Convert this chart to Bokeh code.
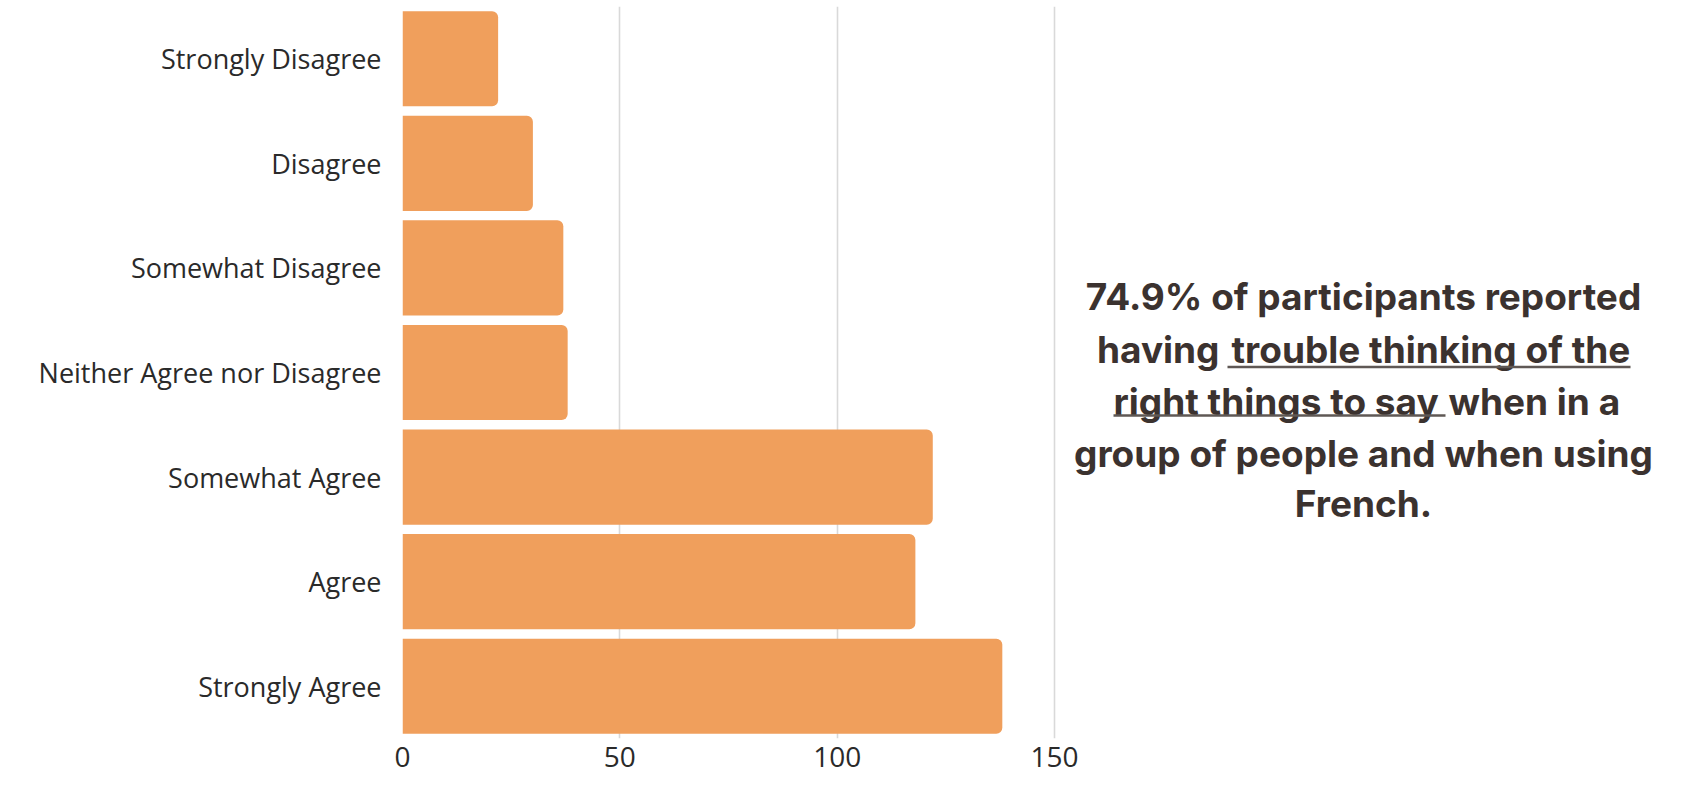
from bokeh.plotting import figure
from bokeh.models import Range1d, FixedTicker, ColumnDataSource
from bokeh.core.properties import value
from bokeh.embed import file_html
from bokeh.resources import INLINE

# ---- data ----
categories = ["Strongly Disagree", "Disagree", "Somewhat Disagree",
              "Neither Agree nor Disagree", "Somewhat Agree", "Agree", "Strongly Agree"]
counts = [22, 30, 37, 38, 122, 118, 138]
x_ticks = [0, 50, 100, 150]

# annotation text pieces (page pixel positions)
note_text = ["74.9% of participants reported", "having", "trouble thinking of the",
             "right things to say", "when in a", "group of people and when using", "French."]
note_x = [1363, 1219, 1231, 1113, 1448, 1363, 1363]
note_y = [296, 349, 349, 401, 401, 453, 503]
note_align = ["center", "right", "left", "left", "left", "center", "center"]
ul_x0 = [1227, 1113]
ul_x1 = [1630, 1445]
ul_y = [366.5, 415]

BAR = "#F09F5C"
TXT = "#3b322f"

pos = list(range(len(categories)))
n = len(categories)

p = figure(width=1679, height=785,
           y_range=Range1d(n - 0.5, -0.5),
           x_range=Range1d(0, 293.8),
           output_backend="svg", toolbar_location=None,
           min_border_left=402, min_border_right=0, min_border_top=6,
           min_border_bottom=47)
p.outline_line_color = None
p.background_fill_color = "white"
p.border_fill_color = "white"

src = ColumnDataSource(dict(y=pos, val=counts))
p.hbar(y="y", right="val", left=0, height=0.91, source=src,
       fill_color=BAR, line_color=None, border_radius=(0, 6, 6, 0))

p.xaxis.ticker = FixedTicker(ticks=x_ticks)
p.xgrid.ticker = FixedTicker(ticks=x_ticks)
p.xgrid.grid_line_color = "#d9d9d9"
p.xgrid.grid_line_width = 1.6
p.ygrid.visible = False

p.yaxis.ticker = FixedTicker(ticks=pos)
p.yaxis.major_label_overrides = {i: c for i, c in zip(pos, categories)}

for ax in (p.xaxis[0], p.yaxis[0]):
    ax.axis_line_color = None
    ax.major_tick_line_color = None
    ax.minor_tick_line_color = None
    ax.major_tick_out = 0
    ax.major_tick_in = 0
    ax.minor_tick_out = 0
    ax.major_label_text_font = "Open Sans"
    ax.major_label_text_color = "#2a2a2a"

p.xaxis.major_label_text_font_size = "28px"
p.xaxis.major_label_standoff = 8
p.yaxis.major_label_text_font_size = "27px"
p.yaxis.major_label_standoff = 21

# page-pixel helper ranges for the annotation
p.extra_x_ranges = {"px": Range1d(402, 1679)}
p.extra_y_ranges = {"py": Range1d(738, 6)}

nsrc = ColumnDataSource(dict(t=note_text, x=note_x, y=note_y, a=note_align))
p.text(x="x", y="y", text="t", text_align="a", source=nsrc,
       x_range_name="px", y_range_name="py",
       text_font=value("Inter"), text_font_style="bold", text_font_size="37px",
       text_color=TXT, text_baseline="middle")
p.segment(x0=ul_x0, x1=ul_x1, y0=ul_y, y1=ul_y, x_range_name="px", y_range_name="py",
          line_color="#5f5855", line_width=2.5)

open("out.html", "w").write(file_html(p, INLINE))
